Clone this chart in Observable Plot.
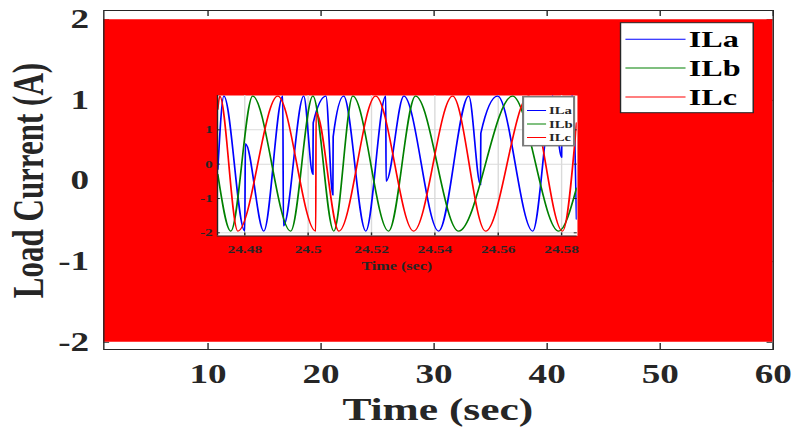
<!DOCTYPE html>
<html><head><meta charset="utf-8">
<script src="https://cdn.jsdelivr.net/npm/d3@7"></script>
<script src="https://cdn.jsdelivr.net/npm/@observablehq/plot@0.6"></script>
<style>
body{margin:0;background:#fff;}
#wrap{position:relative;width:793px;height:431px;overflow:hidden;background:#fff;}
#wrap svg{position:absolute;}
</style></head><body><div id="wrap"></div>
<script>
// ---------- main chart data ----------
const envTime = [0.78, 60];
const envMax = [2.0, 2.0];
const envMin = [-2.0, -2.0];
const mainXTicks = [10, 20, 30, 40, 50, 60];
const mainYTicks = [-2, -1, 0, 1, 2];
const seriesNames = ["ILa", "ILb", "ILc"];
const seriesColors = ["#0000ff", "#008000", "#ff0000"];

// ---------- inset (zoomed) data ----------
const tA = [24.4715,24.4734,24.4800,24.4802,24.4860,24.4920,24.4922,24.4986,24.5015,24.5016,24.5056,24.5078,24.5079,24.5112,24.5182,24.5245,24.5246,24.5302,24.5412,24.5507,24.5544,24.5545,24.5598,24.5709,24.5772,24.5800,24.5801,24.5835,24.5847];
const iA = [-0.15,1.98,-1.95,0.6,-1.95,1.98,-1.8,1.98,-0.3,1.2,1.98,-0.9,0.8,1.98,-1.95,1.98,-0.5,1.98,-1.95,1.98,-0.6,0.9,1.98,-1.95,1.98,0.2,1.3,1.98,-1.6];
const tB = [24.4715,24.4756,24.4825,24.4945,24.5015,24.5081,24.5141,24.5254,24.5339,24.5475,24.5645,24.5791,24.5847];
const iB = [-0.3,-1.95,1.98,-1.95,1.98,-1.95,1.98,-1.95,1.98,-1.95,1.98,-1.95,-0.7];
const tC = [24.4715,24.4721,24.4778,24.4904,24.5024,24.5025,24.5097,24.5213,24.5333,24.5456,24.5560,24.5696,24.5803,24.5847];
const iC = [1.6,1.98,-1.95,1.98,-1.95,1.5,-1.95,1.98,-1.95,1.98,-1.95,1.98,-1.95,1.2];
const insetXTicks = [24.48, 24.5, 24.52, 24.54, 24.56, 24.58];
const insetYTicks = [-2, -1, 0, 1];

// ---------- layout ----------
const SX = 793 / 566;           // horizontal stretch of the original figure
const W = 566, H = 431;
const M = {l: 73.6, r: 14.6, t: 10, b: 82};
const pW = W - M.l - M.r, pH = H - M.t - M.b;
const FONT = "'Liberation Serif','Times New Roman',serif";
const INK = "#262626";

const env = envTime.map((t, k) => ({t, lo: envMin[k], hi: envMax[k]}));

const main = Plot.plot({
  width: W, height: H,
  marginLeft: M.l, marginRight: M.r, marginTop: M.t, marginBottom: M.b,
  x: {domain: [0.78, 60]},
  y: {domain: [-2.09, 2.115]},
  style: {fontFamily: FONT, fontWeight: "bold", fontSize: "26.5px", color: INK, background: "transparent"},
  marks: [
    Plot.ruleX(mainXTicks, {stroke: INK, insetBottom: pH - 6}),
    Plot.ruleX(mainXTicks, {stroke: INK, insetTop: pH - 6}),
    Plot.ruleY(mainYTicks, {stroke: INK, insetRight: pW - 6 / SX}),
    Plot.ruleY(mainYTicks, {stroke: INK, insetLeft: pW - 6 / SX}),
    Plot.areaY(env, {x: "t", y1: "lo", y2: "hi", fill: "#ff0000"}),
    Plot.frame({stroke: INK}),
    Plot.axisX(mainXTicks, {tickSize: 0, tickPadding: 15, tickFormat: d => String(d), label: null}),
    Plot.axisY(mainYTicks, {tickSize: 0, tickPadding: 10.5, tickFormat: d => String(d), label: null})
  ]
});

const wrap = document.getElementById("wrap");
wrap.append(main);
const ms = d3.select(main)
  .attr("preserveAspectRatio", "none")
  .style("left", "0px").style("top", "0px")
  .style("width", "793px").style("height", "431px").style("max-width", "none");

// axis titles
ms.append("text").attr("x", M.l + pW / 2).attr("y", 420)
  .attr("text-anchor", "middle").attr("fill", INK)
  .style("font", `bold 31px ${FONT}`).text("Time (sec)");
ms.append("text").attr("transform", "translate(30.5,180.5) rotate(-90)")
  .attr("text-anchor", "middle").attr("fill", INK)
  .style("font", `bold 31px ${FONT}`).text("Load Current (A)");

// main legend
const lg = ms.append("g").attr("text-anchor", "start");
lg.append("rect").attr("x", 442.9).attr("y", 22.7).attr("width", 94.7).attr("height", 90)
  .attr("fill", "#fff").attr("stroke", INK).attr("stroke-width", 1);
const lgY = [39.3, 68, 97];
seriesNames.forEach((n, k) => {
  lg.append("line").attr("x1", 446.4).attr("x2", 489.3).attr("y1", lgY[k]).attr("y2", lgY[k])
    .attr("stroke", seriesColors[k]).attr("stroke-width", 1);
  lg.append("text").attr("x", 491.6).attr("y", lgY[k] + 7.8).attr("fill", "#000")
    .attr("text-anchor", "start")
    .style("font", `bold 23px ${FONT}`).text(n);
});

// ---------- inset ----------
const IM = {l: 22, r: 3, t: 2, b: 40};
const iPW = 411.6 - 154.7, iPH = 235.7 - 95.3;
const IW = iPW + IM.l + IM.r, IH = iPH + IM.t + IM.b;
const insetData = [
  ...tA.map((t, k) => ({t, i: iA[k], s: seriesNames[0]})),
  ...tB.map((t, k) => ({t, i: iB[k], s: seriesNames[1]})),
  ...tC.map((t, k) => ({t, i: iC[k], s: seriesNames[2]}))
];
const xDomI = [24.4714, 24.585], yDomI = [-2.09, 2.0];
const inset = Plot.plot({
  width: IW, height: IH,
  marginLeft: IM.l, marginRight: IM.r, marginTop: IM.t, marginBottom: IM.b,
  x: {domain: xDomI},
  y: {domain: yDomI},
  color: {domain: seriesNames, range: seriesColors},
  style: {fontFamily: FONT, fontWeight: "bold", fontSize: "11px", color: INK, background: "transparent", overflow: "visible"},
  marks: [
    Plot.frame({fill: "#fff"}),
    Plot.gridX(insetXTicks, {stroke: "#dadada", strokeOpacity: 1}),
    Plot.gridY(insetYTicks, {stroke: "#dadada", strokeOpacity: 1}),
    Plot.line(insetData, {x: "t", y: "i", stroke: "s", z: "s", curve: "monotone-x", strokeWidth: 1.2, clip: true}),
    Plot.ruleX(insetXTicks, {stroke: INK, insetTop: iPH - 3}),
    Plot.ruleY(insetYTicks, {stroke: INK, insetRight: iPW - 3 / SX}),
    Plot.ruleY(insetYTicks, {stroke: INK, insetLeft: iPW - 3 / SX}),
    Plot.ruleX([xDomI[0]], {stroke: INK}),
    Plot.ruleY([yDomI[0]], {stroke: INK}),
    Plot.axisX(insetXTicks, {tickSize: 0, tickPadding: 9, tickFormat: d => String(+d.toFixed(2)), label: null}),
    Plot.axisY(insetYTicks, {tickSize: 0, tickPadding: 3.4, tickFormat: d => String(d), label: null})
  ]
});
wrap.append(inset);
const is = d3.select(inset)
  .attr("preserveAspectRatio", "none")
  .style("left", ((154.7 - IM.l) * SX) + "px").style("top", (95.3 - IM.t) + "px")
  .style("width", (IW * SX) + "px").style("height", IH + "px").style("max-width", "none");

is.append("text").attr("x", IM.l + iPW / 2).attr("y", 176.7)
  .attr("text-anchor", "middle").attr("fill", INK)
  .style("font", `bold 11.5px ${FONT}`).text("Time (sec)");

const ilg = is.append("g").attr("text-anchor", "start");
ilg.append("rect").attr("x", 240.6).attr("y", 3.7).attr("width", 36.4).attr("height", 49)
  .attr("fill", "#fff").attr("stroke", "#7a7a7a").attr("stroke-width", 1.5);
const ilgY = [17.5, 31, 44.5];
seriesNames.forEach((n, k) => {
  ilg.append("line").attr("x1", 243.4).attr("x2", 257).attr("y1", ilgY[k]).attr("y2", ilgY[k])
    .attr("stroke", seriesColors[k]).attr("stroke-width", 1);
  ilg.append("text").attr("x", 259.1).attr("y", ilgY[k] + 3.8).attr("fill", INK)
    .attr("text-anchor", "start")
    .style("font", `bold 10.5px ${FONT}`).text(n);
});
</script>
</body></html>
